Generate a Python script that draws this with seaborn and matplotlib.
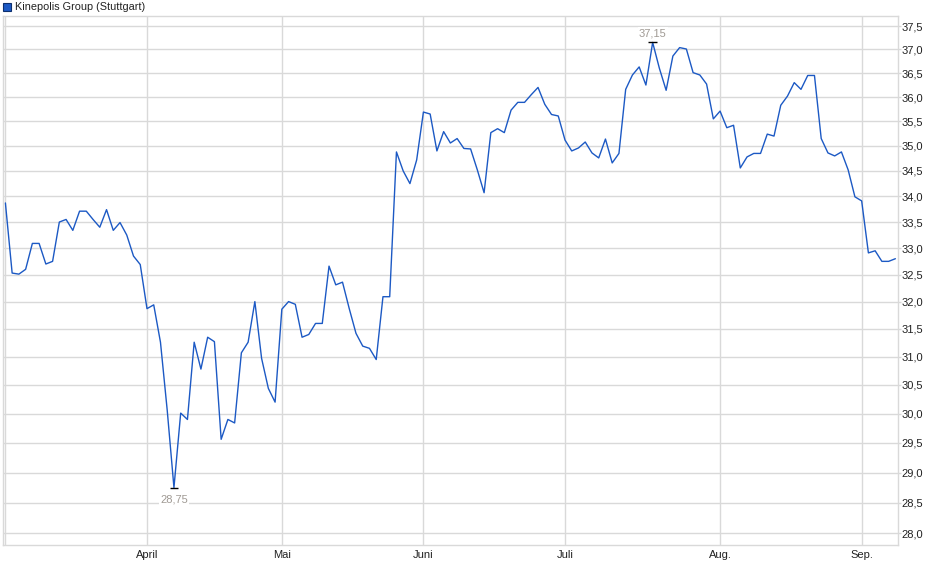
import matplotlib
matplotlib.use("Agg")
import matplotlib.pyplot as plt
from matplotlib.patches import Rectangle
from matplotlib.ticker import FixedLocator, NullLocator, FuncFormatter
import seaborn as sns
import pandas as pd
import numpy as np

# ---- data (closing prices, one per trading day) ----
prices = [
    33.87, 32.53, 32.51, 32.60, 33.09, 33.09, 32.70, 32.75, 33.50, 33.55,
    33.34, 33.71, 33.71, 33.55, 33.40, 33.74, 33.34, 33.49, 33.25, 32.85,
    32.69, 31.87, 31.94, 31.26, 30.06, 28.75, 30.01, 29.90, 31.26, 30.78,
    31.35, 31.27, 29.56, 29.90, 29.84, 31.07, 31.26, 32.00, 30.97, 30.44,
    30.20, 31.86, 32.00, 31.95, 31.35, 31.40, 31.60, 31.60, 32.66, 32.31,
    32.36, 31.87, 31.42, 31.19, 31.15, 30.95, 32.09, 32.09, 34.88, 34.50,
    34.25, 34.72, 35.69, 35.65, 34.90, 35.29, 35.06, 35.15, 34.95, 34.94,
    34.52, 34.07, 35.27, 35.35, 35.27, 35.73, 35.89, 35.89, 36.05, 36.20,
    35.85, 35.64, 35.61, 35.12, 34.90, 34.96, 35.08, 34.86, 34.76, 35.14,
    34.66, 34.85, 36.16, 36.46, 36.63, 36.25, 37.15, 36.60, 36.14, 36.86,
    37.04, 37.01, 36.51, 36.46, 36.27, 35.55, 35.71, 35.37, 35.42, 34.56,
    34.78, 34.85, 34.85, 35.24, 35.20, 35.83, 36.02, 36.30, 36.16, 36.45,
    36.45, 35.15, 34.86, 34.80, 34.88, 34.52, 33.99, 33.91, 32.91, 32.95,
    32.75, 32.75, 32.80,
]
day_index = list(range(len(prices)))

# first trading day of each month (index) and its label
month_starts = [0, 21, 41, 62, 83, 106, 127]
month_labels = ["", "April", "Mai", "Juni", "Juli", "Aug.", "Sep."]

y_ticks = [28.0, 28.5, 29.0, 29.5, 30.0, 30.5, 31.0, 31.5, 32.0, 32.5,
           33.0, 33.5, 34.0, 34.5, 35.0, 35.5, 36.0, 36.5, 37.0, 37.5]

series_name = "Kinepolis Group (Stuttgart)"

df = pd.DataFrame({"day": day_index, "price": prices})

# ---- styling ----
sns.set_theme(style="white")
plt.rcParams["font.family"] = ["Liberation Sans", "DejaVu Sans"]

LINE = "#1c59c4"
GRID = "#d9d9d9"
TXT = "#222222"

fig = plt.figure(figsize=(9.40, 5.79), dpi=100)
W, H = 940, 579
ax = fig.add_axes([2.7 / W, (H - 545.3) / H, (898 - 2.7) / W, (545.3 - 16) / H])

sns.lineplot(data=df, x="day", y="price", ax=ax, color=LINE, linewidth=1.0)

ax.set_yscale("log")
ax.set_ylim(27.81, 37.72)
ax.set_xlim(-0.40, 132.39)

ax.yaxis.set_major_locator(FixedLocator(y_ticks))
ax.yaxis.set_minor_locator(NullLocator())
ax.yaxis.set_major_formatter(FuncFormatter(lambda v, p: f"{v:.1f}".replace(".", ",")))
ax.yaxis.tick_right()
ax.xaxis.set_major_locator(FixedLocator(month_starts))
ax.xaxis.set_minor_locator(NullLocator())
ax.set_xticklabels(month_labels)

ax.grid(True, which="major", color=GRID, linewidth=1.0)
ax.set_axisbelow(True)
ax.tick_params(axis="both", which="major", length=2, width=1.0, color=GRID,
               labelsize=8, labelcolor=TXT)
ax.tick_params(axis="y", which="major", pad=0.8)
ax.tick_params(axis="x", which="major", pad=1.2)
for s in ax.spines.values():
    s.set_color(GRID)
    s.set_linewidth(1.0)
ax.set_xlabel("")
ax.set_ylabel("")

# ---- high / low annotations ----
imax = int(np.argmax(prices))
imin = int(np.argmin(prices))
for idx, offset, va in [(imax, 3, "bottom"), (imin, -5, "top")]:
    val = prices[idx]
    ax.plot([idx - 0.65, idx + 0.65], [val, val], color="black", linewidth=1.0,
            solid_capstyle="butt", zorder=4)
    ax.annotate(f"{val:.2f}".replace(".", ","), xy=(idx, val),
                xytext=(0, offset), textcoords="offset points",
                ha="center", va=va, fontsize=8, color="#a09a94",
                bbox=dict(boxstyle="square,pad=0.1", fc="white", ec="none"),
                zorder=5)

# ---- legend (top-left, outside plot) ----
fig.add_artist(Rectangle((3 / W, (H - 11) / H), 8 / W, 8 / H,
                         transform=fig.transFigure, facecolor=LINE,
                         edgecolor="#0d2f6e", linewidth=0.8))
fig.text(15 / W, (H - 7) / H, series_name, ha="left", va="center",
         fontsize=7.8, color=TXT)

fig.savefig("out.png", dpi=100)
